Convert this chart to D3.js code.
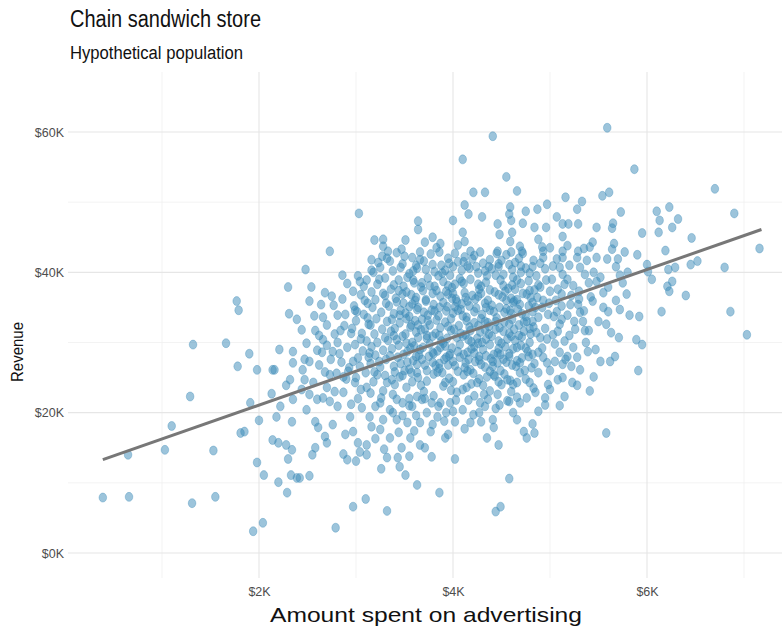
<!DOCTYPE html>
<html><head><meta charset="utf-8">
<script src="https://cdn.jsdelivr.net/npm/d3@7"></script>
<style>
html,body{margin:0;padding:0;background:#fff;}
svg{display:block;font-family:"Liberation Sans",Arial,Helvetica,sans-serif;}
</style></head><body>
<svg id="chart" width="784" height="627"></svg>
<script>
// Each store: [advertising spend ($K), revenue ($K)]
const stores = [
[0.39,7.9],[0.66,8.0],[0.65,14.0],[1.03,14.7],[1.10,18.1],[1.29,22.3],[1.32,29.7],[1.53,14.6],[1.31,7.1],[1.55,8.0],
[1.66,29.9],[1.77,35.9],[1.79,34.6],[1.90,28.4],[1.78,26.6],[1.91,21.4],[1.81,17.1],[1.85,17.3],[2.00,18.9],[2.13,22.7],
[2.18,19.4],[1.98,12.9],[2.05,11.1],[2.20,10.1],[2.29,8.6],[2.14,16.1],[2.20,15.7],[2.28,15.4],[2.34,14.7],[2.30,13.4],
[2.33,11.1],[2.39,10.7],[2.34,18.7],[2.04,4.3],[1.94,3.1],[2.28,23.9],[2.32,24.7],[2.22,20.9],[2.35,21.9],[1.98,26.1],
[2.16,26.1],[2.48,40.4],[2.30,37.9],[2.54,37.9],[2.68,37.1],[2.75,36.6],[2.91,38.4],[3.04,38.7],[3.11,38.9],[3.16,40.3],
[3.25,40.7],[2.31,34.1],[2.39,33.3],[2.81,33.9],[2.89,34.0],[3.01,34.4],[2.21,29.0],[2.35,28.7],[2.49,29.9],[2.66,30.4],
[2.81,30.0],[2.14,26.1],[2.35,27.1],[2.47,27.6],[2.65,28.6],[2.76,28.7],[2.91,29.3],[3.03,48.4],[2.73,43.0],[3.19,44.6],
[3.28,44.7],[3.28,43.7],[3.33,43.0],[3.27,42.3],[3.51,44.6],[3.64,47.3],[3.64,46.1],[3.71,44.3],[3.66,42.9],[5.59,60.6],
[4.41,59.4],[4.10,56.1],[5.87,54.7],[4.55,53.6],[6.70,51.9],[4.21,51.4],[4.33,51.4],[4.66,51.6],[5.16,50.7],[5.33,50.1],
[5.54,50.9],[5.61,51.4],[6.90,48.4],[4.12,49.6],[4.59,49.3],[4.97,49.7],[4.87,49.0],[4.75,48.7],[5.28,49.0],[5.73,48.6],
[6.10,48.7],[6.23,49.3],[4.00,47.4],[4.16,48.3],[4.30,47.9],[4.58,48.3],[4.60,47.4],[5.07,47.9],[4.46,46.9],[4.72,47.0],
[4.84,46.4],[4.96,46.4],[5.13,46.9],[5.19,46.9],[5.29,46.9],[5.48,46.4],[5.65,47.0],[5.64,46.3],[6.13,47.4],[6.32,47.6],
[6.26,46.4],[7.16,43.4],[6.46,44.9],[6.12,45.7],[5.95,45.6],[3.79,45.0],[3.87,44.1],[4.10,45.7],[4.12,44.4],[4.05,43.9],
[4.48,45.4],[4.61,45.7],[4.59,44.4],[4.88,44.7],[5.13,45.1],[5.13,43.0],[5.44,44.3],[5.66,44.1],[5.77,42.9],[6.19,43.1],
[4.18,43.0],[4.46,43.0],[4.69,43.7],[4.71,43.0],[4.93,43.0],[5.29,43.0],[5.41,43.6],[5.64,43.3],[6.22,40.4],[6.29,40.7],
[6.45,41.1],[6.52,41.6],[6.80,40.7],[6.21,38.0],[6.26,38.7],[6.23,37.3],[6.40,36.7],[6.15,34.4],[6.86,34.4],[7.03,31.1],
[6.00,41.1],[6.01,40.1],[5.79,36.9],[5.72,34.7],[5.60,34.4],[5.92,33.7],[5.58,32.6],[5.71,30.7],[5.89,30.4],[5.95,29.7],
[5.36,31.7],[5.40,31.7],[5.37,30.0],[5.24,29.3],[5.18,28.0],[5.28,27.9],[5.52,27.3],[5.62,27.3],[5.67,28.0],[5.05,27.3],
[4.97,27.1],[5.13,26.9],[5.91,26.0],[4.93,42.1],[5.07,41.9],[5.13,42.1],[5.28,42.1],[5.48,42.1],[5.59,41.9],[5.70,41.9],
[5.31,40.7],[5.48,38.7],[5.36,39.7],[5.60,37.9],[5.55,37.1],[5.44,35.9],[5.13,39.7],[5.18,39.0],[5.12,36.9],[5.00,37.3],
[4.90,37.9],[4.87,36.4],[4.92,35.0],[5.07,34.4],[5.21,35.4],[5.29,35.4],[5.31,34.3],[4.82,33.0],[5.10,32.6],[5.03,31.1],
[4.90,30.7],[4.82,28.3],[4.88,28.6],[4.81,26.4],[4.02,13.4],[3.86,8.6],[4.58,10.6],[4.44,5.9],[4.49,6.6],[4.35,16.4],
[4.47,15.4],[4.76,16.4],[4.73,17.3],[4.84,17.1],[4.82,18.4],[4.62,20.0],[4.41,19.0],[4.42,17.9],[3.95,16.9],[3.92,16.4],
[3.78,13.7],[4.02,18.7],[4.18,18.6],[4.21,19.7],[4.10,20.4],[4.28,21.4],[4.33,20.9],[4.46,22.6],[4.48,21.1],[4.69,21.4],
[4.76,22.1],[4.85,22.9],[4.95,22.1],[4.95,21.1],[4.98,24.0],[5.08,24.7],[3.78,21.4],[3.87,21.4],[3.84,19.4],[3.79,18.3],
[3.97,21.4],[4.04,22.9],[4.14,23.6],[4.25,24.3],[4.35,25.1],[4.56,24.7],[4.66,24.3],[4.79,24.3],[4.88,25.7],[2.79,3.6],
[2.97,6.6],[3.10,7.7],[3.32,6.0],[3.63,9.7],[2.52,11.0],[2.42,10.7],[3.26,12.0],[3.32,13.6],[3.51,11.1],[3.45,12.3],
[3.43,13.6],[3.47,15.0],[2.55,14.0],[2.58,15.0],[2.87,14.1],[2.91,13.3],[3.00,13.1],[3.11,14.0],[3.04,14.4],[3.02,15.7],
[3.11,15.4],[2.70,15.7],[2.68,16.6],[2.89,16.9],[2.97,17.3],[3.25,17.6],[3.35,16.4],[3.56,16.4],[3.66,15.4],[3.71,15.0],
[3.53,18.6],[3.66,18.6],[3.42,19.0],[3.28,19.0],[3.16,18.0],[3.14,19.4],[2.94,19.4],[2.76,18.3],[2.61,17.9],[2.58,18.7],
[2.49,20.4],[2.60,21.9],[2.73,21.6],[2.81,20.9],[3.06,20.7],[3.25,21.4],[3.35,20.4],[3.48,21.4],[3.63,22.3],[3.73,20.0],
[2.44,23.3],[2.56,24.3],[2.70,23.6],[2.87,22.9],[2.99,24.3],[3.11,23.6],[3.32,24.3],[3.45,25.1],[3.63,25.7],[2.47,24.7],
[2.87,25.1],[3.22,25.4],[2.73,25.4],[5.58,17.1],[5.15,22.3],[5.23,24.3],[5.28,23.9],[5.41,23.1],[5.45,25.1],[5.13,25.0],
[5.31,26.1],
// core of the cloud
[3.42,42.8],[3.58,42.1],[3.77,42.6],[3.95,42.0],[4.22,42.4],[4.38,41.8],[4.55,42.5],[4.83,41.7],
[3.48,41.2],[3.70,41.6],[3.88,41.0],[4.05,41.5],[4.15,40.9],[4.31,41.3],[4.47,40.8],[4.64,41.4],[4.75,40.6],
[3.38,40.2],[3.55,39.8],[3.63,40.6],[3.81,40.1],[3.97,39.6],[4.09,40.3],[4.26,39.9],[4.40,40.5],[4.52,39.7],[4.70,40.0],[4.86,39.5],
[3.44,38.9],[3.60,38.5],[3.74,39.2],[3.90,38.7],[4.02,38.3],[4.18,39.0],[4.34,38.6],[4.49,38.9],[4.61,38.2],[4.78,38.8],
[3.36,37.6],[3.52,37.2],[3.67,37.9],[3.83,37.4],[3.99,37.8],[4.12,37.1],[4.27,37.6],[4.43,37.2],[4.57,37.7],[4.72,37.0],[4.84,37.5],
[3.41,36.3],[3.57,36.8],[3.72,36.1],[3.87,36.6],[4.03,36.2],[4.20,36.7],[4.36,36.0],[4.51,36.5],[4.66,36.1],[4.80,36.4],
[3.34,35.2],[3.49,35.6],[3.64,35.0],[3.80,35.4],[3.94,35.1],[4.09,35.5],[4.24,34.9],[4.40,35.3],[4.55,34.8],[4.69,35.4],[4.85,35.0],
[3.39,34.1],[3.55,33.7],[3.70,34.3],[3.85,33.8],[4.00,34.2],[4.14,33.6],[4.30,34.0],[4.45,33.5],[4.60,34.1],[4.75,33.7],
[3.45,32.8],[3.61,33.1],[3.76,32.5],[3.92,32.9],[4.06,32.4],[4.22,32.8],[4.37,32.3],[4.53,32.9],[4.68,32.5],[4.83,32.2],
[3.36,31.6],[3.51,31.2],[3.67,31.8],[3.82,31.3],[3.98,31.7],[4.13,31.1],[4.28,31.5],[4.44,31.9],[4.58,31.3],[4.73,31.6],
[3.42,30.4],[3.58,30.0],[3.73,30.6],[3.88,30.2],[4.04,30.7],[4.19,30.1],[4.34,30.5],[4.50,29.9],[4.64,30.3],[4.79,30.0],
[3.37,29.1],[3.53,28.7],[3.69,29.3],[3.84,28.8],[3.99,29.2],[4.15,28.6],[4.31,29.0],[4.46,28.5],[4.62,29.1],[4.77,28.7],
[3.43,27.9],[3.59,27.4],[3.75,28.0],[3.91,27.6],[4.07,27.9],[4.23,27.3],[4.39,27.7],[4.55,27.2],[4.71,27.8],
[3.39,26.6],[3.55,26.2],[3.71,26.8],[3.86,26.3],[4.02,26.7],[4.18,26.1],[4.33,26.5],[4.49,26.0],[4.65,26.6],
[3.48,25.3],[3.64,25.0],[3.80,25.5],[3.96,24.9],[4.11,25.4],[4.27,24.8],[4.43,25.2],[4.59,24.6],
[3.50,42.3],[3.86,42.9],[4.12,42.2],[4.45,42.7],[4.68,42.0],
[3.62,41.0],[3.96,41.3],[4.24,40.8],[4.58,41.1],
[3.46,40.7],[3.72,40.4],[3.89,39.9],[4.17,40.6],[4.33,40.2],[4.61,40.4],[4.79,39.9],
[3.39,38.2],[3.68,38.5],[3.95,38.1],[4.09,38.7],[4.26,38.3],[4.52,38.1],[4.70,38.4],
[3.48,36.9],[3.62,36.4],[3.79,37.0],[3.95,36.9],[4.13,36.4],[4.29,37.0],[4.47,36.8],[4.60,36.3],[4.76,36.9],
[3.42,35.8],[3.58,35.5],[3.72,35.9],[3.90,35.7],[4.04,35.8],[4.17,35.2],[4.33,35.6],[4.48,35.0],[4.62,35.7],[4.78,35.2],
[3.46,34.6],[3.63,34.7],[3.78,34.6],[3.93,34.5],[4.08,34.7],[4.22,34.4],[4.38,34.6],[4.53,34.3],[4.67,34.7],[4.82,34.4],
[3.37,33.3],[3.52,33.4],[3.68,33.3],[3.83,33.2],[3.98,33.4],[4.14,33.1],[4.29,33.4],[4.44,33.0],[4.61,33.3],[4.76,33.0],
[3.40,32.0],[3.56,32.2],[3.71,31.9],[3.87,32.1],[4.01,31.9],[4.17,32.2],[4.33,31.8],[4.48,32.1],[4.63,31.9],[4.79,32.0],
[3.48,30.9],[3.64,30.7],[3.79,30.9],[3.94,30.6],[4.10,30.9],[4.25,30.6],[4.40,30.9],[4.56,30.5],[4.71,30.8],
[3.44,29.6],[3.60,29.5],[3.76,29.8],[3.92,29.5],[4.07,29.7],[4.22,29.4],[4.38,29.7],[4.54,29.4],[4.70,29.6],
[3.49,28.3],[3.65,28.2],[3.80,28.4],[3.96,28.1],[4.11,28.3],[4.27,28.0],[4.42,28.3],[4.58,28.0],
[3.46,27.0],[3.63,26.9],[3.79,27.2],[3.95,26.8],[4.13,27.1],[4.29,26.9],[4.46,27.1],[4.61,26.8],
[3.40,25.8],[3.57,25.7],[3.73,26.0],[3.89,25.7],[4.05,25.9],[4.21,25.6],[4.38,25.9],[4.53,25.5],[4.69,25.7],
[3.53,39.3],[3.81,38.0],[4.07,39.1],[4.29,38.0],[4.44,39.6],[4.66,38.9],[3.61,36.0],[3.93,37.3],[4.23,36.2],[4.54,37.3],
[3.74,33.9],[4.02,35.1],[4.33,33.0],[4.63,35.9],[3.57,32.5],[3.86,31.0],[4.18,31.7],[4.47,30.2],[4.73,32.9],[3.66,29.0],
[3.97,28.4],[4.26,29.9],[4.58,28.4],[3.82,26.7],[4.12,26.4],[4.41,26.6],[4.69,27.1],[3.58,24.4],[3.92,24.3],[4.19,24.1],
[4.47,24.4],[3.71,22.0],[4.03,21.8],[4.36,21.9],[4.56,21.7],
[3.35,41.6],[3.66,41.8],[3.92,40.3],[4.20,41.9],[4.50,41.7],[4.72,42.7],[3.49,38.0],[3.76,38.1],[4.00,37.0],[4.38,37.5],
[4.64,37.6],[4.88,38.2],[3.30,36.7],[3.55,35.1],[3.86,35.0],[4.15,35.9],[4.42,34.4],[4.71,34.1],[3.45,33.9],[3.74,33.1],
[4.10,33.8],[4.36,32.8],[4.58,32.6],[4.88,33.6],[3.33,30.3],[3.62,31.5],[3.90,29.9],[4.16,30.4],[4.30,30.0],[4.60,30.9],
[4.86,31.4],[3.52,29.9],[3.79,28.6],[4.05,28.7],[4.34,28.1],[4.66,29.3],[3.35,28.1],[3.68,27.6],[4.00,27.3],[4.27,27.5],
[4.52,27.6],[4.84,27.0],[3.50,26.0],[3.84,25.8],[4.15,25.9],[4.42,25.4],[4.74,26.0],[3.37,24.7],[3.67,23.9],[3.98,23.2],
[4.31,23.9],[4.62,24.0],[4.83,23.5],
[3.44,37.4],[3.59,38.9],[3.85,39.5],[4.11,38.4],[4.35,39.5],[4.62,39.3],[3.69,37.4],[3.99,36.3],[4.26,36.6],[4.55,36.0],
[4.79,37.4],[3.51,34.2],[3.81,34.5],[4.05,34.6],[4.34,35.0],[4.59,34.6],[4.82,35.7],[3.64,32.5],[3.95,32.3],[4.26,32.4],
[4.52,31.6],[4.80,31.2],[3.39,31.0],[3.73,31.0],[4.08,31.3],[4.37,31.2],[4.68,31.0],[3.56,29.2],[3.87,29.3],[4.19,29.1],
[4.47,29.1],[4.75,29.2],[3.62,28.0],[3.93,27.9],[4.22,28.5],[4.49,28.3],[4.78,28.0],[3.53,27.2],[3.86,27.0],[4.16,27.6],
[4.41,27.3],[4.66,27.4],
[3.47,43.3],[3.83,43.5],[4.02,42.7],[4.28,42.9],[4.60,42.9],[4.92,43.6],[3.59,40.2],[4.00,40.8],[4.37,40.8],[4.70,40.9],
[3.79,41.1],[4.11,41.5],[4.47,41.2],[4.82,40.8],
// left of the core
[3.18,40.0],[3.30,39.2],[3.22,38.3],[3.16,37.2],[3.28,37.0],[3.20,36.1],[3.31,35.6],[3.17,35.0],[3.26,34.3],[3.21,33.4],
[3.32,33.0],[3.15,32.5],[3.27,31.9],[3.19,31.2],[3.30,30.7],[3.22,30.0],[3.16,29.4],[3.28,28.9],[3.20,28.2],[3.31,27.6],
[3.15,27.0],[3.25,26.5],[3.19,25.8],[3.30,25.3],[3.23,41.4],[3.32,42.0],
[3.05,36.8],[3.12,35.6],[2.98,35.2],[3.08,34.0],[3.00,33.1],[3.13,32.6],[2.96,32.0],[3.06,31.3],[3.11,30.2],[2.99,29.7],
[3.07,28.8],[3.13,27.9],[2.97,27.3],[3.04,26.6],[3.10,25.7],[3.00,25.0],[3.08,38.0],[3.02,39.5],
[2.88,32.4],[2.78,31.2],[2.85,27.2],[2.93,26.4],[2.80,25.6],[2.90,24.8],[2.77,35.3],[2.86,36.2],
[2.58,31.7],[2.70,32.5],[2.62,26.8],[2.52,27.3],[2.68,25.8],[2.57,33.8],[2.64,35.4],
[3.05,30.5],[2.95,31.3],[3.12,33.5],[2.99,34.6],[3.18,24.4],[3.05,23.3],[2.92,25.9],[3.24,27.3],[3.14,28.5],[3.02,27.8],
[2.83,28.4],[2.70,29.6],[2.62,31.0],[2.74,27.6],[2.84,31.7],[3.09,36.0],[3.24,39.0],[3.16,41.8],[2.97,37.3],[2.86,39.6],
[2.66,33.6],[2.52,35.9],[2.44,31.8],[2.60,28.9],[2.45,26.1],
// below the core
[2.52,22.6],[2.66,22.1],[2.78,23.0],[2.95,21.2],[3.02,22.0],[3.15,22.8],[3.28,23.1],[3.20,20.9],[3.38,22.6],[3.40,24.0],
[3.52,23.6],[3.55,22.0],[3.70,23.0],[3.73,24.5],[3.58,20.9],[3.48,19.6],[3.60,17.4],[3.80,22.4],[3.90,23.8],[3.93,20.0],
[4.00,24.4],[4.10,23.3],[4.22,22.4],[4.27,20.0],[4.38,23.1],[4.50,24.0],[4.60,23.0],[4.66,22.2],[4.75,24.8],
[3.26,22.1],[3.42,21.9],[3.55,21.0],[3.68,21.9],[3.85,20.9],[4.00,20.2],[4.16,21.8],[4.32,22.6],[4.44,20.6],[4.58,21.6],
[3.38,20.0],[3.62,19.6],[3.77,17.3],[3.91,18.8],[4.12,17.7],[4.29,18.7],[3.44,17.2],[3.20,16.3],[3.29,14.8],[3.55,13.8],
[4.66,19.0],[4.88,20.2],[5.00,23.3],[5.10,21.0],
// right of the core
[4.95,40.5],[5.02,39.0],[5.08,37.6],[4.93,36.0],[5.15,38.3],[5.22,36.7],[4.98,34.0],[5.12,33.3],[5.20,31.0],[4.95,32.0],
[5.05,29.8],[5.15,30.2],[5.25,33.0],[5.35,34.5],[5.42,36.5],[5.40,38.5],[5.30,37.3],[4.90,41.3],[5.00,43.5],[5.20,41.0],
[5.35,43.4],[5.45,40.0],[5.50,33.0],[5.47,29.0],[4.92,29.2],[5.00,26.0],[5.22,26.6],
[4.96,38.9],[5.06,36.0],[4.99,35.6],[5.12,35.2],[5.04,33.7],[5.18,33.9],[4.97,30.5],[5.08,31.6],[5.10,28.6],[4.93,27.9],
[5.16,27.6],[5.26,31.9],[5.34,33.0],[5.39,28.7],[5.30,36.2],[5.24,38.1],[5.10,40.7],[5.03,40.9],[5.18,43.8],[5.38,41.7],
[5.52,39.3],[5.55,35.0],[5.63,31.4],[5.68,36.0],[5.82,33.9],[5.72,39.6],
[5.80,40.0],[5.75,38.5],[5.90,42.5],[6.05,39.0],[5.68,40.8]
];

// Least-squares fit line, drawn across the range of advertising spend
const fitAdvertising = [0.39, 7.18];
const fitRevenue = [13.3, 46.1];

const xMajorTicks = [2, 4, 6];
const xMinorTicks = [1, 3, 5, 7];
const yMajorTicks = [0, 20, 40, 60];
const yMinorTicks = [10, 30, 50];

const titleText = "Chain sandwich store";
const subtitleText = "Hypothetical population";
const xTitle = "Amount spent on advertising";
const yTitle = "Revenue";

const panel = {left: 68, right: 782, top: 72, bottom: 578};

const x = d3.scaleLinear().domain([0, 7]).range([65, 744]);
const y = d3.scaleLinear().domain([0, 60]).range([553, 132]);
const money = d => "$" + d + "K";

const svg = d3.select("#chart");
svg.append("rect").attr("width", 784).attr("height", 627).attr("fill", "#fff");

const grid = svg.append("g");
// minor grid
grid.selectAll(".vmin").data(xMinorTicks).join("line")
  .attr("x1", d => x(d)).attr("x2", d => x(d))
  .attr("y1", panel.top).attr("y2", panel.bottom)
  .attr("stroke", "#f0f0f0").attr("stroke-width", 0.8);
grid.selectAll(".hmin").data(yMinorTicks).join("line")
  .attr("y1", d => y(d)).attr("y2", d => y(d))
  .attr("x1", panel.left).attr("x2", panel.right)
  .attr("stroke", "#f0f0f0").attr("stroke-width", 0.8);
// major grid
grid.selectAll(".vmaj").data(xMajorTicks).join("line")
  .attr("x1", d => x(d)).attr("x2", d => x(d))
  .attr("y1", panel.top).attr("y2", panel.bottom)
  .attr("stroke", "#e6e6e6").attr("stroke-width", 1.1);
grid.selectAll(".hmaj").data(yMajorTicks).join("line")
  .attr("y1", d => y(d)).attr("y2", d => y(d))
  .attr("x1", panel.left).attr("x2", panel.right)
  .attr("stroke", "#e6e6e6").attr("stroke-width", 1.1);

// axes: labels only
const xAxis = svg.append("g").attr("transform", `translate(0,${panel.bottom})`)
  .call(d3.axisBottom(x).tickValues(xMajorTicks).tickFormat(money).tickSize(0).tickPadding(9));
const yAxis = svg.append("g").attr("transform", `translate(${panel.left},0)`)
  .call(d3.axisLeft(y).tickValues(yMajorTicks).tickFormat(money).tickSize(0).tickPadding(4));
[xAxis, yAxis].forEach(a => {
  a.select(".domain").remove();
  a.selectAll("text").attr("fill", "#4d4d4d").attr("font-size", 12.5)
    .attr("font-family", '"Liberation Sans",Arial,sans-serif');
});

// points
const col = "#3a8ab8";
svg.append("g").selectAll("ellipse").data(stores).join("ellipse")
  .attr("cx", d => x(d[0])).attr("cy", d => y(d[1]))
  .attr("rx", 3.8).attr("ry", 4.5)
  .attr("fill", col).attr("fill-opacity", 0.5)
  .attr("stroke", col).attr("stroke-opacity", 0.35).attr("stroke-width", 1);

// fit line
svg.append("path")
  .datum(fitAdvertising.map((a, i) => [a, fitRevenue[i]]))
  .attr("d", d3.line().x(d => x(d[0])).y(d => y(d[1])))
  .attr("fill", "none").attr("stroke", "#777").attr("stroke-width", 3);

// titles
svg.append("text").attr("x", 70).attr("y", 27).text(titleText)
  .attr("font-size", 23).attr("fill", "#111")
  .attr("textLength", 191).attr("lengthAdjust", "spacingAndGlyphs");
svg.append("text").attr("x", 70).attr("y", 59).text(subtitleText)
  .attr("font-size", 18).attr("fill", "#111")
  .attr("textLength", 173).attr("lengthAdjust", "spacingAndGlyphs");
svg.append("text").attr("x", 426).attr("y", 622)
  .attr("text-anchor", "middle").text(xTitle)
  .attr("font-size", 21).attr("fill", "#111")
  .attr("textLength", 312).attr("lengthAdjust", "spacingAndGlyphs");
svg.append("text").attr("transform", "translate(23,352) rotate(-90)")
  .attr("text-anchor", "middle").text(yTitle)
  .attr("font-size", 17).attr("fill", "#111")
  .attr("textLength", 60).attr("lengthAdjust", "spacingAndGlyphs");
</script>
</body></html>
